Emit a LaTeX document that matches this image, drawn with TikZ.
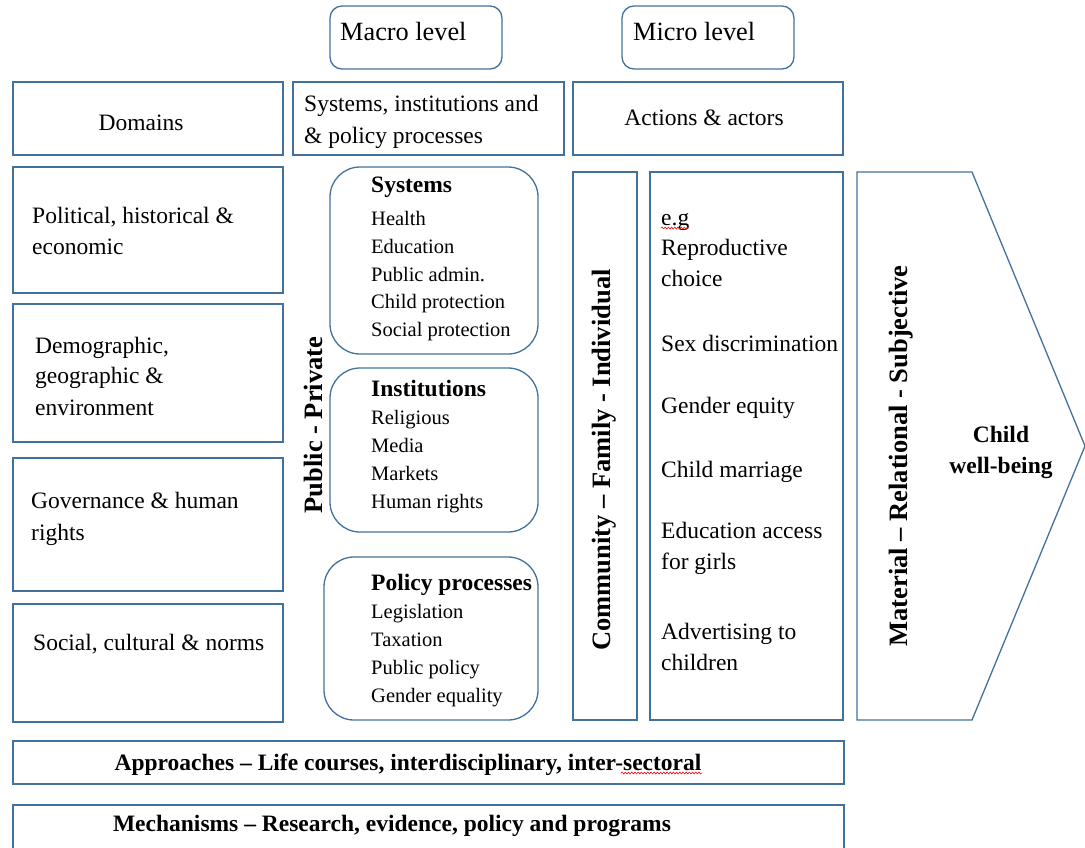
\documentclass[tikz,border=0pt]{standalone}
\usepackage{fontspec}
\setmainfont{Liberation Serif}
\usetikzlibrary{decorations.pathmorphing}
\definecolor{frameblue}{RGB}{65,113,156}

\begin{document}
\begin{tikzpicture}[x=1pt,y=-1pt,
    box/.style={draw=frameblue,line width=1.3pt},
    txt/.style={anchor=base west,inner sep=0pt,font=\fontsize{23.5}{28}\selectfont},
    ctxt/.style={txt,anchor=base},
    head/.style={txt,font=\fontsize{23.5}{28}\selectfont\bfseries},
    item/.style={txt,font=\fontsize{20.5}{25}\selectfont},
    tab/.style={txt,font=\fontsize{26.3}{30}\selectfont},
    vert/.style={rotate=90,inner sep=0pt,font=\fontsize{26.5}{30}\selectfont\bfseries},
    spell/.style={red,line width=0.6pt,decorate,decoration={snake,segment length=3.2pt,amplitude=0.9pt}}]
\useasboundingbox (0,0) rectangle (1085,847);
% macro / micro level tabs
\draw[box,rounded corners=12pt] (330,6) rectangle (502,69);
\draw[box,rounded corners=12pt] (622,6) rectangle (794,69);
\node[tab] (macro) at (340,40) {Macro level};
\node[tab] (micro) at (633,40) {Micro level};
% column headings
\draw[box] (13,82) rectangle (283,155);
\draw[box] (293,82) rectangle (564,155);
\draw[box] (573,82) rectangle (843,155);
\node[ctxt] (domains) at (141,130) {Domains};
\node[txt] (sip1) at (304,111) {Systems, institutions and};
\node[txt] (sip2) at (304,143) {\& policy processes};
\node[ctxt] (actions) at (704,125) {Actions \& actors};
% domains
\draw[box] (13,167) rectangle (283,293);
\draw[box] (13,304) rectangle (283,442);
\draw[box] (13,458) rectangle (283,591);
\draw[box] (13,604) rectangle (283,722);
\foreach \t/\x/\y [count=\i] in {{Political, historical \&}/32/223, economic/32/254,
    {Demographic,}/35/353, geographic \&/35/383, environment/35/415,
    Governance \& human/31/508, rights/31/540, {Social, cultural \& norms}/33/650}
  \node[txt] (dom\i) at (\x,\y) {\t};
% systems, institutions, policy processes
\draw[box,rounded corners=30pt] (330,167) rectangle (538,354);
\draw[box,rounded corners=30pt] (330,368) rectangle (538,532);
\draw[box,rounded corners=30pt] (324,557) rectangle (538,720);
\node[head] (sys) at (371,192) {Systems};
\foreach \t [count=\i] in {Health,Education,Public admin.,Child protection,Social protection}
  \node[item] (sys\i) at (371,{198+27.7*\i}) {\t};
\node[head] (inst) at (371,396) {Institutions};
\foreach \t [count=\i] in {Religious,Media,Markets,Human rights}
  \node[item] (inst\i) at (371,{397+27.8*\i}) {\t};
\node[head] (pol) at (371,590) {Policy processes};
\foreach \t [count=\i] in {Legislation,Taxation,Public policy,Gender equality}
  \node[item] (pol\i) at (371,{591+27.8*\i}) {\t};
\node[vert] (pubpriv) at (313.5,425) {Public - Private};
% actions and actors
\draw[box] (573,172) rectangle (637,720);
\node[vert] (levels) at (604,460) {Community – Family - Individual};
\draw[box] (650,172) rectangle (843,720);
\foreach \t/\y [count=\i] in {e.g/225, Reproductive/255, choice/286, Sex discrimination/351,
    Gender equity/413, Child marriage/477, Education access/538, for girls/569,
    Advertising to/639, children/670}
  \node[txt] (eg\i) at (661,\y) {\t};
\draw[spell] ([yshift=-3pt]eg1.base west) -- ([yshift=-3pt]eg1.base east);
% outcome arrow
\draw[box] (857,172) -- (972,172) -- (1085,446) -- (972,720) -- (857,720) -- cycle;
\node[vert] (dims) at (901,456) {Material – Relational - Subjective};
\node[head,anchor=base] (child) at (1001,442) {Child};
\node[head,anchor=base] (wellbeing) at (1001,473) {well-being};
% approaches and mechanisms
\draw[box] (13,741) rectangle (844,784);
\draw[box] (13,805) rectangle (844,880);
\node[head,anchor=base] (appr) at (408,770) {Approaches – Life courses, interdisciplinary, inter-sectoral};
\node[head,anchor=base] (mech) at (392,831) {Mechanisms – Research, evidence, policy and programs};
\draw[spell] ([yshift=-3pt]appr.base east) -- ++(-81,0);
\end{tikzpicture}
\end{document}
